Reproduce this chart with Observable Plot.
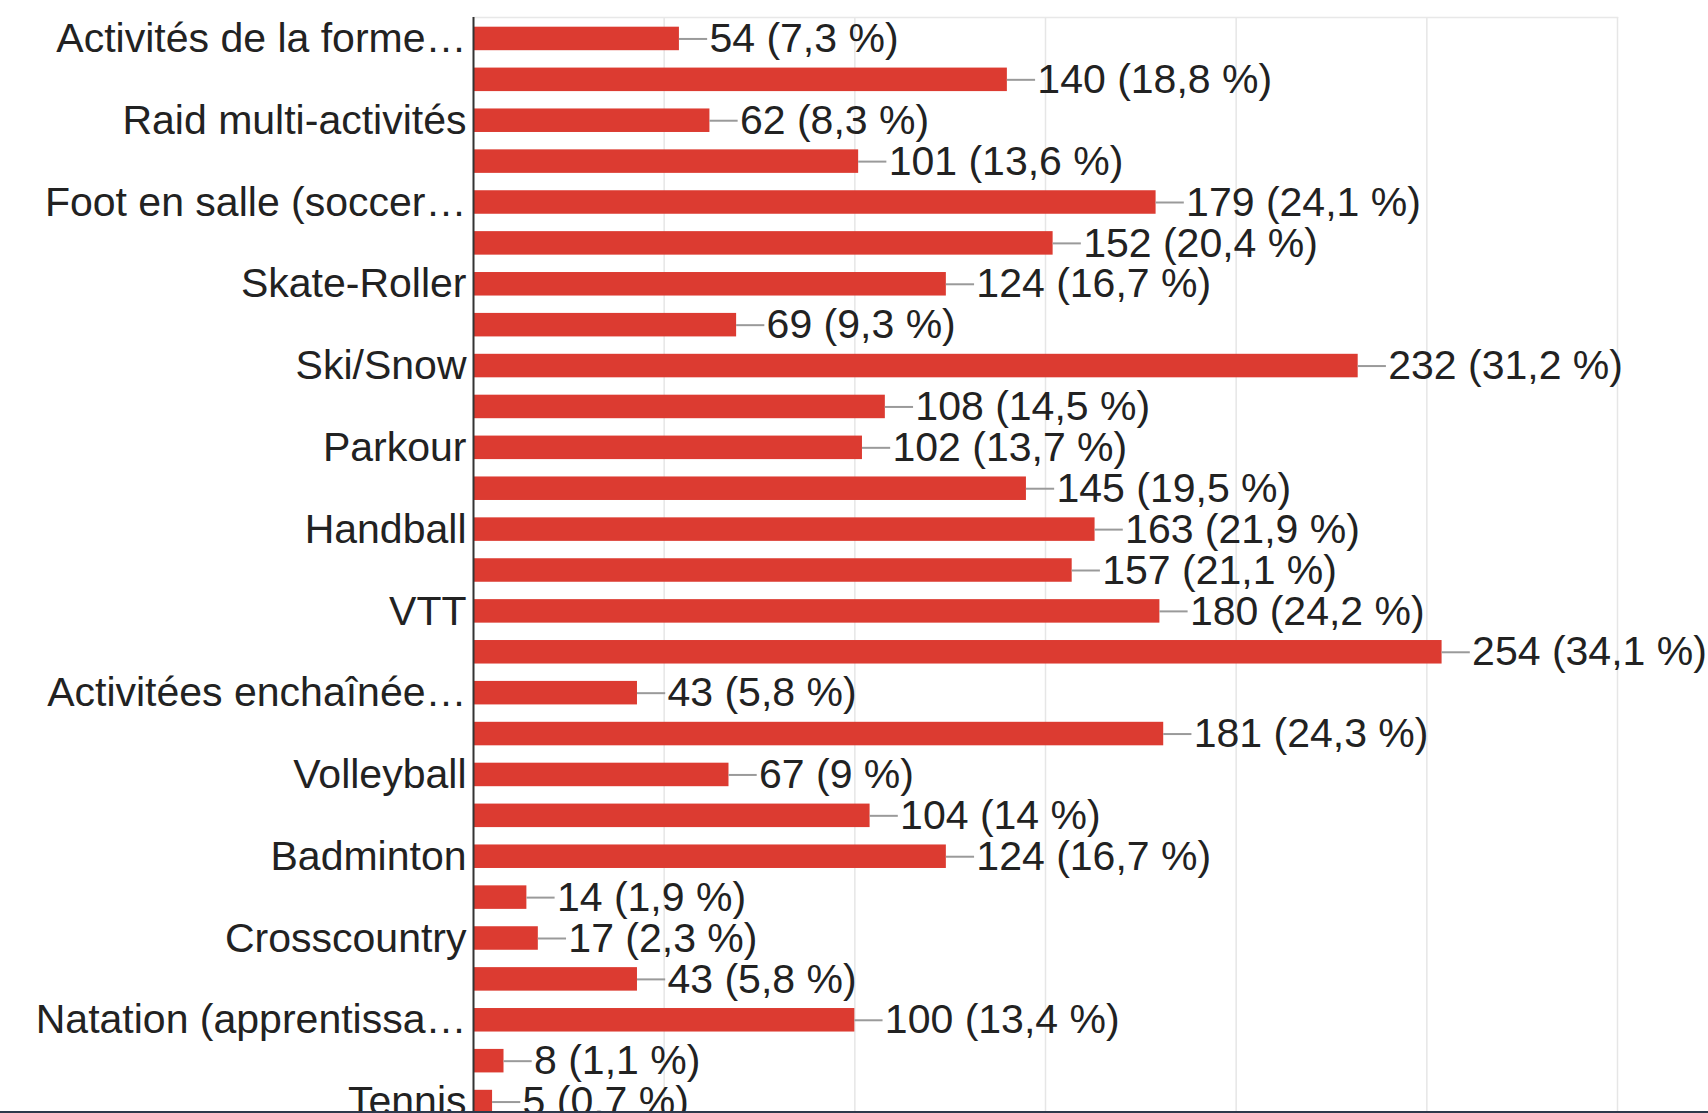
<!DOCTYPE html>
<html>
<head>
<meta charset="utf-8">
<script src="https://cdn.jsdelivr.net/npm/d3@7"></script>
<script src="https://cdn.jsdelivr.net/npm/@observablehq/plot@0.6"></script>
<style>
  html, body { margin: 0; padding: 0; background: #fff; }
  #wrap { width: 1708px; height: 1111px; overflow: hidden; border-bottom: 2px solid #2e3a4c; }
  #wrap svg { overflow: hidden; }
</style>
</head>
<body>
<div id="wrap"></div>
<script>
const labels = ["Activités de la forme…", "", "Raid multi-activités", "", "Foot en salle (soccer…", "", "Skate-Roller", "", "Ski/Snow", "", "Parkour", "", "Handball", "", "VTT", "", "Activitées enchaînée…", "", "Volleyball", "", "Badminton", "", "Crosscountry", "", "Natation (apprentissa…", "", "Tennis"];
const values = [54, 140, 62, 101, 179, 152, 124, 69, 232, 108, 102, 145, 163, 157, 180, 254, 43, 181, 67, 104, 124, 14, 17, 43, 100, 8, 5];
const percents = ["7,3", "18,8", "8,3", "13,6", "24,1", "20,4", "16,7", "9,3", "31,2", "14,5", "13,7", "19,5", "21,9", "21,1", "24,2", "34,1", "5,8", "24,3", "9", "14", "16,7", "1,9", "2,3", "5,8", "13,4", "1,1", "0,7"];
const gridTicks = [50, 100, 150, 200, 250, 300];

const data = values.map((v, i) => ({i, v, label: labels[i], pct: percents[i]}));
const connectorUnits = 7.4;

const chart = Plot.plot({
  width: 1708,
  height: 1111,
  marginLeft: 473,
  marginRight: 91,
  marginTop: 17,
  marginBottom: 0,
  style: {fontFamily: "'Liberation Sans', Arial, sans-serif", color: "#222", background: "#fff"},
  x: {domain: [0, 300], axis: null},
  y: {domain: d3.range(values.length), range: [18, 1122], paddingInner: 0.425, paddingOuter: 0.2125, align: 0.5, round: false, axis: null},
  marks: [
    Plot.gridX(gridTicks, {stroke: "#e6e6e6", strokeOpacity: 1, strokeWidth: 1.5}),
    Plot.frame({anchor: "top", stroke: "#e8e8e8", strokeWidth: 1.5}),
    Plot.barX(data, {x: "v", y: "i", fill: "#dc3b31"}),
    Plot.ruleY(data, {y: "i", x1: "v", x2: d => d.v + connectorUnits, stroke: "#9a9a9a", strokeWidth: 2}),
    Plot.text(data, {x: "v", y: "i", text: d => `${d.v} (${d.pct} %)`, dx: 30, textAnchor: "start", fontSize: 41, fill: "#222"}),
    Plot.axisY({tickSize: 0, tickPadding: 7, fontSize: 41, tickFormat: i => labels[i], fill: "#222", label: null}),
    Plot.ruleX([0], {stroke: "#333", strokeWidth: 2})
  ]
});
document.getElementById("wrap").appendChild(chart);
</script>
</body>
</html>
